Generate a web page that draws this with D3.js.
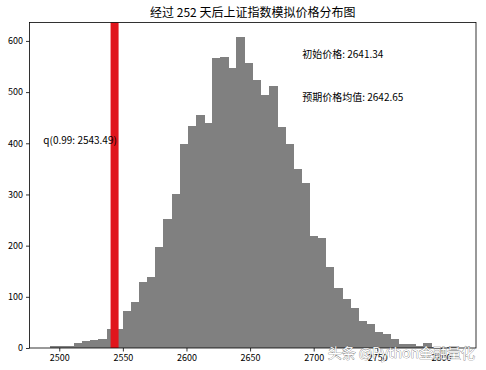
<!DOCTYPE html>
<html>
<head>
<meta charset="utf-8">
<script src="https://cdn.jsdelivr.net/npm/d3@7"></script>
<style>
  body { margin: 0; background: #fff; }
  text { font-family: "Noto Sans CJK SC", "DejaVu Sans", sans-serif; }
</style>
</head>
<body>
<svg id="chart" width="486" height="370"></svg>
<script>
// histogram of simulated index prices after 252 days (50 bins)
const binStart = 2492.55;
const binWidth = 6.38;
const counts = [3, 4, 4, 10, 13, 15, 18, 37, 37, 72,
  89, 128, 139, 198, 252, 301, 398, 434, 455, 440,
  566, 568, 548, 608, 557, 524, 494, 512, 432, 398,
  350, 323, 219, 214, 159, 118, 96, 79, 53, 46,
  32, 27, 17, 8, 8, 4, 10, 2, 0, 1];

const xTicks = [2500, 2550, 2600, 2650, 2700, 2750, 2800];
const yTicks = [0, 100, 200, 300, 400, 500, 600];

const quantileValue = 2543.49;
const labels = [
  { x: 2487.5, y: 398, text: 'q(0.99: 2543.49)' },
  { x: 2691, y: 566, text: '初始价格: 2641.34' },
  { x: 2691, y: 482, text: '预期价格均值: 2642.65' }
];

const plotLeft = 29.5, plotRight = 476, plotTop = 22.5, plotBottom = 348;

const bins = counts.map((c, i) => ({
  x0: binStart + i * binWidth,
  x1: binStart + (i + 1) * binWidth,
  count: c
}));

const x = d3.scaleLinear()
  .domain([2476.6, 2827.6])
  .range([plotLeft, plotRight]);

const y = d3.scaleLinear()
  .domain([0, 636])
  .range([plotBottom, plotTop]);

const svg = d3.select('#chart');

// bars
svg.append('g')
  .attr('shape-rendering', 'crispEdges')
  .selectAll('rect')
  .data(bins)
  .enter()
  .append('rect')
  .attr('x', d => x(d.x0))
  .attr('width', d => x(d.x1) - x(d.x0) + 0.6)
  .attr('y', d => y(d.count))
  .attr('height', d => y(0) - y(d.count))
  .attr('fill', '#808080');

// 1% quantile line
svg.append('line')
  .attr('x1', x(quantileValue))
  .attr('x2', x(quantileValue))
  .attr('y1', plotTop)
  .attr('y2', plotBottom)
  .attr('stroke', '#e0151c')
  .attr('stroke-width', 8);

// axes
const bottomAxis = d3.axisBottom(x)
  .tickValues(xTicks)
  .tickSize(3.5)
  .tickPadding(3)
  .tickFormat(d3.format('d'));

svg.append('g')
  .attr('transform', `translate(0, ${plotBottom})`)
  .call(bottomAxis)
  .call(g => g.select('.domain').remove());

const leftAxis = d3.axisLeft(y)
  .tickValues(yTicks)
  .tickSize(3.5)
  .tickPadding(3)
  .tickFormat(d3.format('d'));

svg.append('g')
  .attr('transform', `translate(${plotLeft}, 0)`)
  .call(leftAxis)
  .call(g => g.select('.domain').remove());

svg.selectAll('.tick text')
  .attr('font-size', 9)
  .attr('fill', '#000')
  .style('font-family', '"Noto Sans CJK SC", sans-serif');
svg.selectAll('.tick line').attr('stroke', '#000').attr('stroke-width', 0.8);

// frame
svg.append('rect')
  .attr('x', plotLeft)
  .attr('y', plotTop)
  .attr('width', plotRight - plotLeft)
  .attr('height', plotBottom - plotTop)
  .attr('fill', 'none')
  .attr('stroke', '#000')
  .attr('stroke-width', 0.8);

// annotations
svg.append('g')
  .selectAll('text')
  .data(labels)
  .enter()
  .append('text')
  .attr('x', d => x(d.x))
  .attr('y', d => y(d.y))
  .attr('font-size', 10)
  .attr('fill', '#000')
  .text(d => d.text);

// title
svg.append('text')
  .attr('x', (plotLeft + plotRight) / 2)
  .attr('y', 17)
  .attr('text-anchor', 'middle')
  .attr('font-size', 12)
  .attr('fill', '#000')
  .text('经过 252 天后上证指数模拟价格分布图');

// watermark
svg.append('text')
  .attr('x', 475)
  .attr('y', 358)
  .attr('text-anchor', 'end')
  .attr('font-size', 14)
  .attr('fill', '#fff')
  .attr('stroke', '#555')
  .attr('stroke-width', 0.6)
  .attr('paint-order', 'stroke')
  .attr('opacity', 0.9)
  .text('头条 @Python金融量化');
</script>
</body>
</html>
